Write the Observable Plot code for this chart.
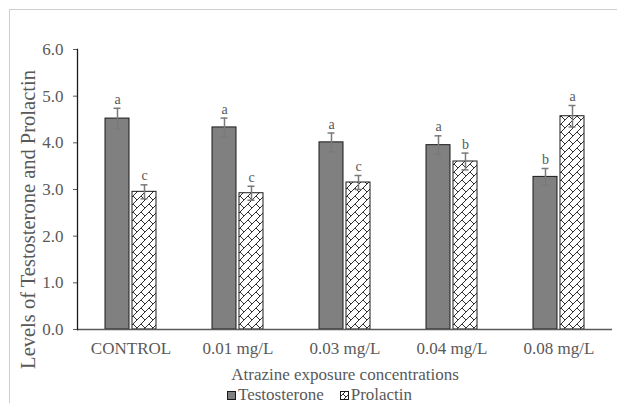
<!DOCTYPE html>
<html>
<head>
<meta charset="utf-8">
<script src="https://cdn.jsdelivr.net/npm/d3@7"></script>
<script src="https://cdn.jsdelivr.net/npm/@observablehq/plot@0.6"></script>
<style>
  html, body { margin: 0; padding: 0; background: #fff; }
  #wrap { position: relative; width: 617px; height: 403px; overflow: hidden; font-family: "Liberation Serif", "Times New Roman", serif; }
  #border { position: absolute; left: 9px; top: 9px; width: 700px; height: 500px; border: 1px solid #cfcfcf; }
  #chart { position: absolute; left: 0; top: 0; }
  #legend { position: absolute; left: 227px; top: 386px; font-size: 17px; line-height: 17px; color: #595959; white-space: nowrap; }
  #legend span.item { margin-right: 16px; }
  #legend svg { vertical-align: 0px; margin-right: 2px; }
</style>
</head>
<body>
<div id="wrap">
  <div id="border"></div>
  <div id="chart"></div>
  <div id="legend"></div>
</div>
<script>
const groups = ["CONTROL", "0.01 mg/L", "0.03 mg/L", "0.04 mg/L", "0.08 mg/L"];
const series = ["Testosterone", "Prolactin"];
const testosterone = [4.52, 4.33, 4.01, 3.95, 3.27];
const testosteroneErr = [0.22, 0.20, 0.20, 0.20, 0.18];
const testosteroneLetters = ["a", "a", "a", "a", "b"];
const prolactin = [2.95, 2.92, 3.15, 3.60, 4.57];
const prolactinErr = [0.15, 0.15, 0.15, 0.18, 0.23];
const prolactinLetters = ["c", "c", "c", "b", "a"];
const yTicks = [0, 1, 2, 3, 4, 5, 6];

const data = [];
groups.forEach((g, i) => {
  data.push({group: g, series: "Testosterone", value: testosterone[i], err: testosteroneErr[i], letter: testosteroneLetters[i]});
  data.push({group: g, series: "Prolactin", value: prolactin[i], err: prolactinErr[i], letter: prolactinLetters[i]});
});
data.forEach(d => { d.lo = d.value - d.err; d.hi = d.value + d.err; });

const gray = "#595959";
const tData = data.filter(d => d.series === "Testosterone");
const pData = data.filter(d => d.series === "Prolactin");

const plot = Plot.plot({
  width: 617,
  height: 386,
  marginLeft: 76,
  marginRight: 4,
  marginTop: 49,
  marginBottom: 57,
  style: {fontFamily: "'Liberation Serif', 'Times New Roman', serif", fontSize: "17px", color: gray, background: "transparent"},
  fx: {domain: groups, padding: 0, axis: "bottom", tickSize: 0, tickPadding: 12, label: "Atrazine exposure concentrations", labelAnchor: "center", labelOffset: 50, labelArrow: "none"},
  x: {domain: series, paddingInner: 0.1, paddingOuter: 1, axis: null},
  y: {domain: [0, 6], ticks: yTicks, tickFormat: d3.format(".1f"), tickSize: 4, tickPadding: 10, label: "Levels of Testosterone and Prolactin", labelAnchor: "center", labelOffset: 57, labelArrow: "none"},
  marks: [
    Plot.barY(tData, {fx: "group", x: "series", y: "value", fill: "#808080", stroke: "#1a1a1a", strokeWidth: 1}),
    Plot.barY(pData, {fx: "group", x: "series", y: "value", fill: "url(#brick)", stroke: "#1a1a1a", strokeWidth: 1}),
    Plot.ruleX(data, {fx: "group", x: "series", y1: "lo", y2: "hi", stroke: "#7a7a7a", strokeWidth: 1.5}),
    Plot.tickY(data, {fx: "group", x: "series", y: "hi", stroke: "#7a7a7a", strokeWidth: 1.5, insetLeft: 8.5, insetRight: 8.5}),
    Plot.tickY(data, {fx: "group", x: "series", y: "lo", stroke: "#7a7a7a", strokeWidth: 1.5, insetLeft: 8.5, insetRight: 8.5}),
    Plot.text(data, {fx: "group", x: "series", y: "hi", text: "letter", dy: -9, fontSize: 14, fill: gray}),
    Plot.ruleY([0], {stroke: "#595959", strokeWidth: 1.3}),
    Plot.frame({anchor: "left", facetAnchor: "left", stroke: "#1a1a1a", strokeWidth: 1.3})
  ]
});

// y-axis label: larger and centred a little lower, as in the reference
const yl = d3.select(plot).select('g[aria-label="y-axis label"]');
if (!yl.empty()) {
  const prev = yl.attr("transform") || "";
  yl.attr("transform", `translate(0,30) ${prev}`).attr("font-size", "20.5px").style("font-size", "20.5px");
}

// hatch pattern (diagonal brick)
const defs = d3.select(plot).insert("defs", ":first-child");
const pat = defs.append("pattern").attr("id", "brick").attr("patternUnits", "userSpaceOnUse").attr("width", 8).attr("height", 8);
pat.append("rect").attr("width", 8).attr("height", 8).attr("fill", "#fff");
pat.append("path").attr("d", "M-1,9 L9,-1 M4,4 L9,9 M-1,-1 L0,0").attr("stroke", "#1a1a1a").attr("stroke-width", 0.9).attr("fill", "none");

document.getElementById("chart").appendChild(plot);

// legend
const legend = d3.select("#legend");
const fills = {"Testosterone": "#808080", "Prolactin": "url(#brickL)"};
series.forEach(s => {
  const item = legend.append("span").attr("class", "item");
  const sw = item.append("svg").attr("width", 9).attr("height", 9);
  if (s === "Prolactin") {
    const p = sw.append("defs").append("pattern").attr("id", "brickL").attr("patternUnits", "userSpaceOnUse").attr("width", 6).attr("height", 6);
    p.append("rect").attr("width", 6).attr("height", 6).attr("fill", "#fff");
    p.append("path").attr("d", "M-1,7 L7,-1 M3,3 L7,7").attr("stroke", "#1a1a1a").attr("stroke-width", 0.9);
  }
  sw.append("rect").attr("x", 0.5).attr("y", 0.5).attr("width", 8).attr("height", 8).attr("fill", fills[s]).attr("stroke", "#1a1a1a");
  item.append("span").text(s);
});
</script>
</body>
</html>
